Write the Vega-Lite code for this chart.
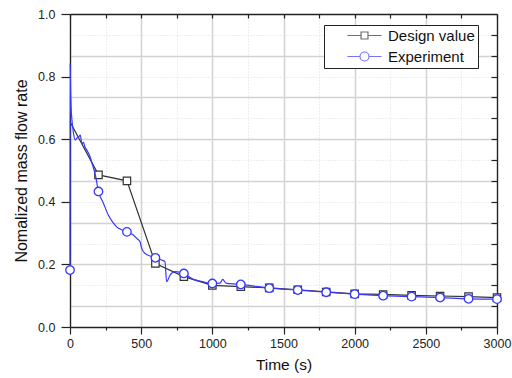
{
  "$schema": "https://vega.github.io/schema/vega-lite/v6.json",
  "autosize": "none",
  "width": 427,
  "height": 313,
  "padding": {"left": 70, "top": 14, "right": 15, "bottom": 51},
  "background": "white",
  "config": {
    "font": "Liberation Sans",
    "view": {"stroke": null},
    "axis": {"labelFont": "Liberation Sans", "titleFont": "Liberation Sans", "labelColor": "#222", "titleColor": "#111", "domainColor": "#222", "tickColor": "#222", "domainWidth": 1.3, "tickWidth": 1.2, "titleFontWeight": "normal"},
    "legend": {"labelFont": "Liberation Sans"}
  },
  "datasets": {
    "design": [
      {"t": 0, "v": 0.656}, {"t": 200, "v": 0.486}, {"t": 400, "v": 0.467}, {"t": 600, "v": 0.203},
      {"t": 800, "v": 0.161}, {"t": 1000, "v": 0.133}, {"t": 1200, "v": 0.129}, {"t": 1400, "v": 0.125},
      {"t": 1600, "v": 0.119}, {"t": 1800, "v": 0.112}, {"t": 2000, "v": 0.106}, {"t": 2200, "v": 0.104},
      {"t": 2400, "v": 0.101}, {"t": 2600, "v": 0.099}, {"t": 2800, "v": 0.097}, {"t": 3000, "v": 0.094}
    ],
    "expMarkers": [
      {"t": 0, "v": 0.182}, {"t": 200, "v": 0.433}, {"t": 400, "v": 0.304}, {"t": 600, "v": 0.221},
      {"t": 800, "v": 0.171}, {"t": 1000, "v": 0.139}, {"t": 1200, "v": 0.136}, {"t": 1400, "v": 0.124},
      {"t": 1600, "v": 0.118}, {"t": 1800, "v": 0.111}, {"t": 2000, "v": 0.105}, {"t": 2200, "v": 0.1},
      {"t": 2400, "v": 0.097}, {"t": 2600, "v": 0.094}, {"t": 2800, "v": 0.09}, {"t": 3000, "v": 0.089}
    ],
    "expLine": [
      {"t": 0, "v": 0.182}, {"t": 1, "v": 0.843}, {"t": 4, "v": 0.76}, {"t": 8, "v": 0.7},
      {"t": 14, "v": 0.66}, {"t": 20, "v": 0.635}, {"t": 26, "v": 0.615}, {"t": 37, "v": 0.597},
      {"t": 49, "v": 0.604}, {"t": 61, "v": 0.607}, {"t": 72, "v": 0.613}, {"t": 84, "v": 0.585},
      {"t": 95, "v": 0.59}, {"t": 105, "v": 0.575}, {"t": 117, "v": 0.566}, {"t": 141, "v": 0.544},
      {"t": 160, "v": 0.515}, {"t": 178, "v": 0.486}, {"t": 200, "v": 0.433}, {"t": 234, "v": 0.396},
      {"t": 269, "v": 0.358}, {"t": 300, "v": 0.335}, {"t": 328, "v": 0.32}, {"t": 365, "v": 0.31},
      {"t": 400, "v": 0.304}, {"t": 445, "v": 0.294}, {"t": 469, "v": 0.283}, {"t": 492, "v": 0.272},
      {"t": 504, "v": 0.251}, {"t": 527, "v": 0.235}, {"t": 562, "v": 0.227}, {"t": 600, "v": 0.221},
      {"t": 644, "v": 0.214}, {"t": 667, "v": 0.209}, {"t": 679, "v": 0.145}, {"t": 703, "v": 0.166},
      {"t": 738, "v": 0.177}, {"t": 800, "v": 0.171}, {"t": 867, "v": 0.152}, {"t": 930, "v": 0.145},
      {"t": 1000, "v": 0.139}, {"t": 1054, "v": 0.14}, {"t": 1073, "v": 0.152}, {"t": 1096, "v": 0.14},
      {"t": 1170, "v": 0.137}, {"t": 1200, "v": 0.136}, {"t": 1400, "v": 0.124}, {"t": 1600, "v": 0.118},
      {"t": 1800, "v": 0.111}, {"t": 2000, "v": 0.105}, {"t": 2200, "v": 0.1}, {"t": 2400, "v": 0.097},
      {"t": 2600, "v": 0.094}, {"t": 2800, "v": 0.09}, {"t": 3000, "v": 0.089}
    ]
  },
  "resolve": {"axis": {"x": "independent", "y": "independent"}},
  "layer": [
    {
      "data": {"name": "design"},
      "mark": {"type": "line", "color": "#333333", "strokeWidth": 1.2},
      "encoding": {
        "x": {"field": "t", "type": "quantitative", "scale": {"domain": [0, 3000], "nice": false, "zero": false},
          "axis": {"orient": "bottom", "title": "Time (s)", "titleFontSize": 15.5, "titlePadding": 8, "labelFontSize": 12.5, "labelPadding": 3,
            "values": [0, 250, 500, 750, 1000, 1250, 1500, 1750, 2000, 2250, 2500, 2750, 3000],
            "labelExpr": "datum.value % 500 == 0 ? datum.label : ''", "format": "d",
            "tickSize": {"condition": {"test": "datum.value % 500 == 0", "value": 7}, "value": 3},
            "labelFlush": false, "labelOverlap": false,
            "grid": true,
            "gridDash": {"condition": {"test": "datum.value % 500 == 0", "value": []}, "value": [1, 2]},
            "gridColor": {"condition": {"test": "datum.value % 500 == 0", "value": "#d2d2d2"}, "value": "#dedede"},
            "gridWidth": {"condition": {"test": "datum.value % 500 == 0", "value": 1.5}, "value": 1}}},
        "y": {"field": "v", "type": "quantitative", "scale": {"domain": [0, 1], "nice": false, "zero": false},
          "axis": {"orient": "left", "title": "Nomalized mass flow rate", "titleFontSize": 16, "titlePadding": 8, "labelFontSize": 12.5, "labelPadding": 6,
            "values": [0, 0.2, 0.4, 0.6, 0.8, 1.0], "format": ".1f", "tickSize": 9, "grid": false, "labelFlush": false}}
      }
    },
    {
      "data": {"name": "design"},
      "transform": [{"filter": "datum.t > 0"}],
      "mark": {"type": "point", "shape": "square", "filled": true, "fill": "white", "stroke": "#333333", "strokeWidth": 1.2, "size": 55, "opacity": 1},
      "encoding": {
        "x": {"field": "t", "type": "quantitative", "axis": null},
        "y": {"field": "v", "type": "quantitative", "axis": null}
      }
    },
    {
      "data": {"name": "expLine"},
      "mark": {"type": "line", "color": "#3838ff", "strokeWidth": 1.2, "interpolate": "monotone"},
      "encoding": {
        "x": {"field": "t", "type": "quantitative", "axis": null},
        "y": {"field": "v", "type": "quantitative", "axis": null}
      }
    },
    {
      "data": {"name": "expMarkers"},
      "mark": {"type": "point", "shape": "circle", "filled": true, "fill": "white", "stroke": "#3838ff", "strokeWidth": 1.3, "size": 72, "opacity": 1},
      "encoding": {
        "x": {"field": "t", "type": "quantitative", "axis": null},
        "y": {"field": "v", "type": "quantitative", "axis": null}
      }
    },
    {
      "data": {"name": "design"},
      "transform": [{"filter": "datum.t < 0"}],
      "mark": {"type": "point", "filled": false, "strokeWidth": 1.2},
      "encoding": {
        "x": {"field": "t", "type": "quantitative", "scale": {"domain": [0, 3000], "nice": false, "zero": false},
          "axis": {"orient": "top", "title": null, "labels": false, "grid": false,
            "values": [0, 250, 500, 750, 1000, 1250, 1500, 1750, 2000, 2250, 2500, 2750, 3000], "tickSize": -4}},
        "y": {"field": "v", "type": "quantitative", "scale": {"domain": [0, 1], "nice": false, "zero": false},
          "axis": {"orient": "right", "title": null, "labels": false,
            "values": [0.0667, 0.1333, 0.2, 0.2667, 0.3333, 0.4, 0.4667, 0.5333, 0.6, 0.6667, 0.7333, 0.8, 0.8667, 0.9333],
            "tickSize": -6,
            "grid": true,
            "gridDash": {"condition": {"test": "round(datum.value*15) % 2 == 1", "value": []}, "value": [1, 2]},
            "gridColor": {"condition": {"test": "round(datum.value*15) % 2 == 1", "value": "#d2d2d2"}, "value": "#dedede"},
            "gridWidth": {"condition": {"test": "round(datum.value*15) % 2 == 1", "value": 1.5}, "value": 1}}},
        "stroke": {"field": "series", "type": "nominal",
          "scale": {"domain": ["Design value", "Experiment"], "range": ["#333333", "#3838ff"]},
          "legend": {"orient": "none", "legendX": 254, "legendY": 11, "title": null, "strokeColor": "#222", "fillColor": "white", "padding": 3,
            "symbolOffset": 30, "labelOffset": 16, "rowPadding": 5, "labelFontSize": 15, "labelColor": "#111",
            "symbolSize": 144, "symbolStrokeWidth": 1.2}},
        "shape": {"field": "series", "type": "nominal",
          "scale": {"domain": ["Design value", "Experiment"],
            "range": ["M-2.85,0H-0.58M0.58,0H2.85M-0.58,-0.58H0.58V0.58H-0.58Z", "M-2.85,0H-0.75M0.75,0H2.85M0.75,0A0.75,0.75,0,1,1,-0.75,0A0.75,0.75,0,1,1,0.75,0Z"]},
          "legend": {"orient": "none", "legendX": 254, "legendY": 11, "title": null, "strokeColor": "#222", "fillColor": "white", "padding": 3,
            "symbolOffset": 30, "labelOffset": 16, "rowPadding": 5, "labelFontSize": 15, "labelColor": "#111",
            "symbolSize": 144, "symbolStrokeWidth": 1.2}}
      }
    }
  ]
}
